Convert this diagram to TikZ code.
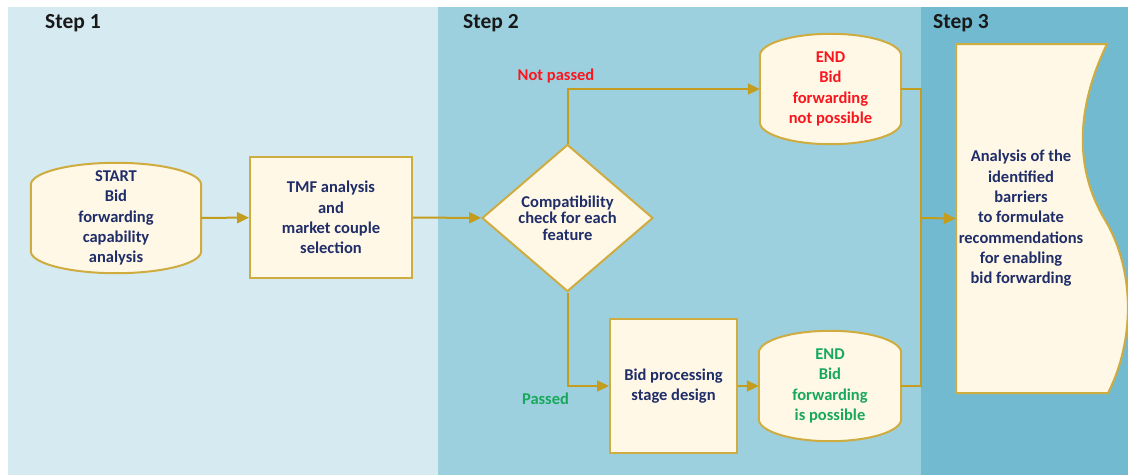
\documentclass[tikz,border=0pt]{standalone}
\usepackage{fontspec}
\setmainfont{Carlito}
\usetikzlibrary{shapes.geometric}
\usetikzlibrary{arrows.meta}
\usetikzlibrary{calc}
\usetikzlibrary{positioning}
\pgfdeclarelayer{background}
\pgfsetlayers{background,main}
\definecolor{stepone}{RGB}{214,234,241}
\definecolor{steptwo}{RGB}{157,208,223}
\definecolor{stepthree}{RGB}{114,186,208}
\definecolor{cream}{RGB}{255,248,230}
\definecolor{boxgold}{RGB}{207,172,64}
\definecolor{linegold}{RGB}{196,156,30}
\definecolor{navy}{RGB}{31,45,105}
\definecolor{endred}{RGB}{250,22,30}
\definecolor{endgreen}{RGB}{24,168,92}
\tikzset{terminal/.style={rectangle, draw=none, inner sep=0pt, align=center,
text=navy, font=\bfseries\fontsize{16.5}{20.3}\selectfont},
process/.style={terminal, draw=boxgold, fill=cream, line width=2pt},
decision/.style={process, diamond, aspect=1.163,
font=\bfseries\fontsize{16.5}{16.7}\selectfont},
shapebox/.style={draw=boxgold, fill=cream, line width=2pt},
steplabel/.style={inner sep=0pt, text=black!90, font=\bfseries\fontsize{21.5}{24}\selectfont},
flow/.style={color=linegold, line width=2pt},
>={Triangle[length=12pt,width=11pt]}}
% rounded start/end box drawn round a named node
\newcommand{\capsule}[1]{%
  \draw[shapebox] ([yshift=-22pt]#1.north west)
    .. controls ([yshift=-9.9pt]#1.north west) and ($(#1.north west)!0.448!(#1.north)$) .. (#1.north)
    .. controls ($(#1.north east)!0.448!(#1.north)$) and ([yshift=-9.9pt]#1.north east) .. ([yshift=-22pt]#1.north east)
    -- ([yshift=22pt]#1.south east)
    .. controls ([yshift=9.9pt]#1.south east) and ($(#1.south east)!0.448!(#1.south)$) .. (#1.south)
    .. controls ($(#1.south west)!0.448!(#1.south)$) and ([yshift=9.9pt]#1.south west) .. ([yshift=22pt]#1.south west)
    -- cycle;}

\begin{document}
\begin{tikzpicture}[x=1pt, y=-1pt]
  \useasboundingbox (0,0) rectangle (1128,475);

  % the three steps
  \begin{pgfonlayer}{background}
    \fill[white] (0,0) rectangle (1128,475);
    \fill[stepone] (8,7) rectangle (438,475);
    \fill[steptwo] (438,7) rectangle (921,475);
    \fill[stepthree] (921,7) rectangle (1128,475);
  \end{pgfonlayer}
  \node (step1) [steplabel, anchor=west] at (45,23) {Step 1};
  \node (step2) [steplabel, anchor=west] at (463,23) {Step 2};
  \node (step3) [steplabel, anchor=west] at (933,23) {Step 3};

  \node (start) [terminal, minimum width=170pt, minimum height=110pt] at (116,218)
    {START\\Bid\\forwarding\\capability\\analysis};
  \node (tmf) [process, minimum width=162pt, minimum height=121pt] at (331,217.5)
    {TMF analysis\\and\\market couple\\selection};
  \node (check) [decision, minimum width=171pt, minimum height=147pt] at (567.5,218)
    {Compatibility\\check for each\\feature};
  \node (endno) [terminal, text=endred, minimum width=141pt, minimum height=110pt] at (830.5,89)
    {END\\Bid\\forwarding\\not possible};
  \node (proc) [process, minimum width=127pt, minimum height=134pt] at (673.5,386)
    {Bid processing\\stage design};
  \node (endok) [terminal, text=endgreen, minimum width=142pt, minimum height=110pt] at (830,386)
    {END\\Bid\\forwarding\\is possible};
  \node (ana) [terminal, minimum width=130pt, minimum height=349pt] at (1021,218.5)
    {Analysis of the\\identified\\barriers\\to formulate\\recommendations\\for enabling\\bid forwarding};

  \begin{pgfonlayer}{background}
    \capsule{start}
    \capsule{endno}
    \capsule{endok}
    \draw[shapebox] (956,44) -- (1107,44)
      .. controls (1075,110) and (1075,170) .. (1105,220)
      .. controls (1135,270) and (1135,340) .. (1108,393)
      -- (956,393) -- cycle;
  \end{pgfonlayer}

  \coordinate (join) at (921,218);
  \draw [flow,->] (start) -- (tmf);
  \draw [flow,->] (tmf) -- (check);
  \draw [flow,->] (check.north) |- (endno.west);
  \draw [flow,->] (check.south) |- (proc.west);
  \draw [flow,->] (proc) -- (endok);
  \draw [flow] (endno.east) -| (join);
  \draw [flow] (endok.east) -| (join);
  \draw [flow,->] (join) -- (ana.west);

  \node (captno) [terminal, text=endred] at (556,76) {Not passed};
  \node (captok) [terminal, text=endgreen] at (545.5,399) {Passed};
\end{tikzpicture}
\end{document}
